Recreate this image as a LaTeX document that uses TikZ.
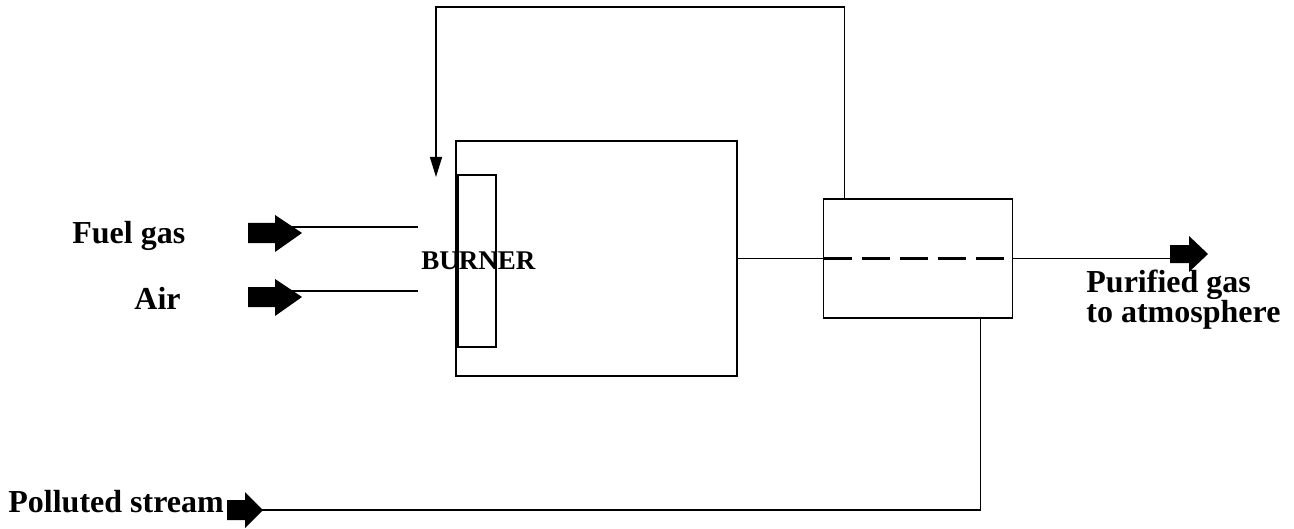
\documentclass[tikz,border=0pt]{standalone}
\usepackage{fontspec}
\setmainfont{Liberation Serif}
\usetikzlibrary{arrows.meta,calc}
\begin{document}
\begin{tikzpicture}[x=0.5pt,y=-0.5pt,
  line/.style={line width=0.8pt},
  box/.style={draw,line width=0.8pt,inner sep=0pt,outer sep=0pt},
  lbl/.style={font=\fontsize{16}{18}\selectfont\bfseries,inner sep=0pt,anchor=base west},
  blk/.style={fill=black,draw=none}]
\useasboundingbox (0,0) rectangle (1294,529);
% units
\node[box,minimum width=140.5pt,minimum height=117.5pt] (comb) at (596.5,258.5) {};
\node[box,minimum width=19pt,minimum height=86pt] (burner) at (477,261) {};
\node[box,minimum width=94.5pt,minimum height=59.5pt] (hx) at (918,258.5) {};
% labels
\node[lbl] (fuel) at (72,243) {Fuel gas};
\node[lbl] (air) at (134,309) {Air};
\node[lbl,font=\fontsize{13.5}{15}\selectfont\bfseries] (burnerlbl) at (421,270) {BURNER};
\node[lbl] (pur1) at (1086,292) {Purified gas};
\node[lbl] (pur2) at (1086,322) {to atmosphere};
\node[lbl] (poll) at (8,512) {Polluted stream};
% block arrows
\fill[blk] (248,223) -- (275,223) -- (275,215) -- (302,233) -- (275,252) -- (275,243) -- (248,243) -- cycle;
\fill[blk] (248,287) -- (275,287) -- (275,279) -- (302,297) -- (275,316) -- (275,307) -- (248,307) -- cycle;
\fill[blk] (1170,245) -- (1189,245) -- (1189,236) -- (1208,254) -- (1189,272) -- (1189,263) -- (1170,263) -- cycle;
\fill[blk] (227,500) -- (245,500) -- (245,492) -- (263,510) -- (245,528) -- (245,520) -- (227,520) -- cycle;
% coordinates
\coordinate (fuelA) at (290,227);
\coordinate (fuelB) at (418,227);
\coordinate (airA) at (290,291);
\coordinate (airB) at (418,291);
\coordinate (outend) at (1180,258.5);
\coordinate (fbtop) at (436,7);
\coordinate (fbtip) at (436,177);
\coordinate (polltip) at (262,510);
% connectors
\draw[line] (fuelA) -- (fuelB);
\draw[line] (airA) -- (airB);
\draw[line] (comb.east) -- (hx.west);
\draw[line width=1.8pt,dash pattern=on 14pt off 5pt] (hx.west) -- ($(hx.east)+(-4,0)$);
\draw[line] (hx.east) -- (outend);
\draw[line,-{Triangle[length=10pt,width=6pt]}] ([xshift=10.5pt]hx.north west) |- (fbtop) -- (fbtip);
\draw[line] ([xshift=78.5pt]hx.south west) |- (polltip);
\end{tikzpicture}
\end{document}
